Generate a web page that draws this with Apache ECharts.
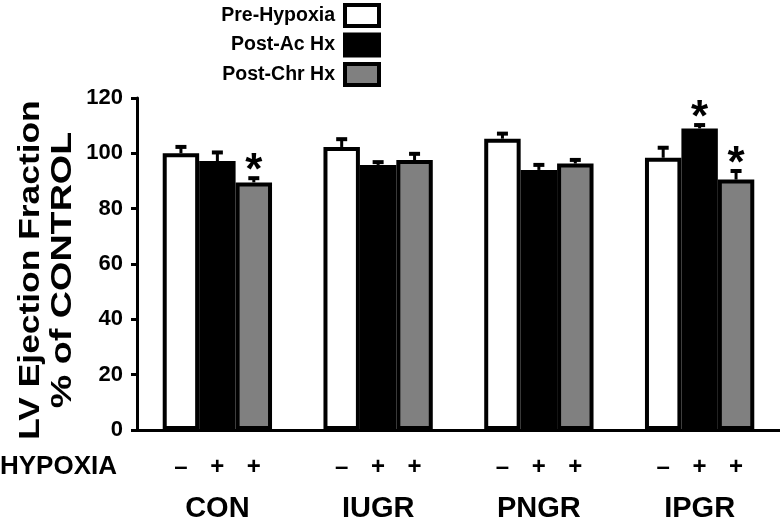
<!DOCTYPE html>
<html>
<head>
<meta charset="utf-8">
<script src="https://cdn.jsdelivr.net/npm/echarts@6/dist/echarts.min.js"></script>
<style>
html,body{margin:0;padding:0;background:#fff;}
#chart{width:780px;height:524px;}
</style>
</head>
<body>
<div id="chart"></div>
<script>
var categories = ['CON', 'IUGR', 'PNGR', 'IPGR'];
var seriesNames = ['Pre-Hypoxia', 'Post-Ac Hx', 'Post-Chr Hx'];
var preHypoxia = [100, 102.3, 105.3, 98.4];
var postAcute = [97.2, 95.8, 94.0, 109.0];
var postChronic = [89.5, 97.6, 96.3, 90.5];
var errPre = [2.5, 3.0, 2.0, 3.8];
var errAcute = [3.3, 1.2, 2.0, 1.4];
var errChronic = [1.7, 2.4, 1.5, 3.3];
var sigPre = [0, 0, 0, 0];
var sigAcute = [0, 0, 0, 1];
var sigChronic = [1, 0, 0, 1];
var hypoxiaSigns = ['\u2013', '+', '+'];
var yTicks = [0, 20, 40, 60, 80, 100, 120];
var yTitleLines = ['LV Ejection Fraction', '% of CONTROL'];
var rowLabel = 'HYPOXIA';

var FONT = 'Liberation Sans, Arial, sans-serif';
var GAP = 0.32;

var values = [preHypoxia, postAcute, postChronic];
var errs = [errPre, errAcute, errChronic];
var sigs = [sigPre, sigAcute, sigChronic];
var fills = ['#ffffff', '#000000', '#808080'];
var borders = [4, 0, 4];

var errData = [];
for (var s = 0; s < 3; s++) {
  for (var c = 0; c < categories.length; c++) {
    errData.push([c, s, values[s][c], errs[s][c], sigs[s][c]]);
  }
}

var barSeries = seriesNames.map(function (name, s) {
  return {
    name: name,
    type: 'bar',
    data: values[s],
    barGap: '0%',
    barCategoryGap: (GAP * 100) + '%',
    itemStyle: { color: fills[s], borderColor: '#000', borderWidth: borders[s] },
    emphasis: { disabled: true },
    z: 2 + s
  };
});

var chart = echarts.init(document.getElementById('chart'), null, { renderer: 'canvas' });
chart.setOption({
  animation: false,
  backgroundColor: '#fff',
  grid: { left: 137, right: 0, top: 98, bottom: 94 },
  legend: {
    orient: 'vertical',
    right: 399,
    top: 3,
    padding: 0,
    align: 'right',
    itemWidth: 34,
    itemHeight: 21,
    itemGap: 4.5,
    icon: 'rect',
    selectedMode: false,
    textStyle: { fontFamily: FONT, fontWeight: 'bold', fontSize: 19.5, color: '#000', padding: [0, 5, 0, 0], lineHeight: 21 },
    data: seriesNames.map(function (n, s) {
      return { name: n, itemStyle: { color: fills[s], borderColor: '#000', borderWidth: 4 } };
    })
  },
  xAxis: {
    type: 'category',
    data: categories,
    axisLine: { lineStyle: { color: '#000', width: 3 } },
    axisTick: { show: false },
    axisLabel: { margin: 64, fontFamily: FONT, fontWeight: 'bold', fontSize: 29, color: '#000' }
  },
  yAxis: {
    type: 'value',
    min: 0, max: 120, interval: 20,
    splitLine: { show: false },
    axisLine: { show: true, lineStyle: { color: '#000', width: 3 } },
    axisTick: { show: true, length: 6, lineStyle: { color: '#000', width: 3 } },
    axisLabel: {
      margin: 14, fontFamily: FONT, fontWeight: 'bold', fontSize: 22, color: '#000',
      formatter: function (v) { return yTicks.indexOf(v) >= 0 ? String(v) : ''; }
    }
  },
  graphic: [{
    type: 'text', left: 0, top: 454,
    style: { text: rowLabel, font: 'bold 26px ' + FONT, fill: '#000' }
  }, {
    type: 'text', x: 31, y: 270, rotation: Math.PI / 2, scaleX: 1.22,
    style: { text: yTitleLines[0], font: 'bold 29px ' + FONT, fill: '#000', textAlign: 'center', textVerticalAlign: 'middle' }
  }, {
    type: 'text', x: 63, y: 270, rotation: Math.PI / 2, scaleX: 1.3,
    style: { text: yTitleLines[1], font: 'bold 29px ' + FONT, fill: '#000', textAlign: 'center', textVerticalAlign: 'middle' }
  }],
  series: barSeries.concat([{
    type: 'custom',
    clip: false,
    z: 10,
    silent: true,
    data: errData,
    encode: { x: 0, y: 2 },
    renderItem: function (params, api) {
      var c = api.value(0), s = api.value(1), v = api.value(2), e = api.value(3), sig = api.value(4);
      var band = api.size([1, 0])[0];
      var barW = band * (1 - GAP) / 3;
      var base = api.coord([c, 0]);
      var cx = base[0] + (s - 1) * barW;
      var top = api.coord([c, v])[1];
      var capY = api.coord([c, v + e])[1];
      var children = [
        { type: 'line', shape: { x1: cx, y1: top, x2: cx, y2: capY }, style: { stroke: '#000', lineWidth: 3 } },
        { type: 'rect', shape: { x: cx - 5.5, y: capY - 1.5, width: 11, height: 4 }, style: { fill: '#000' } },
        { type: 'text', x: cx, y: base[1] + 37,
          style: { text: hypoxiaSigns[s], font: 'bold 24px ' + FONT, fill: '#000', textAlign: 'center', textVerticalAlign: 'middle' } }
      ];
      if (sig) {
        children.push({ type: 'text', x: cx, y: capY + 16,
          style: { text: '*', font: 'bold 44px ' + FONT, fill: '#000', textAlign: 'center', textVerticalAlign: 'bottom' } });
      }
      return { type: 'group', children: children };
    }
  }])
});
</script>
</body>
</html>
